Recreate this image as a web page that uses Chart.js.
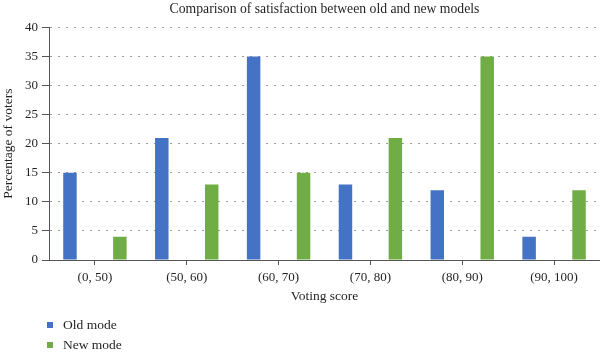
<!DOCTYPE html>
<html>
<head>
<meta charset="utf-8">
<script src="https://cdn.jsdelivr.net/npm/chart.js@4/dist/chart.umd.min.js"></script>
<style>
  html, body { margin: 0; padding: 0; background: #fff; }
  #wrap { width: 600px; height: 354px; position: relative; }
</style>
</head>
<body>
<div id="wrap"><canvas id="chart"></canvas></div>
<script>
var categories = ['(0, 50)', '(50, 60)', '(60, 70)', '(70, 80)', '(80, 90)', '(90, 100)'];
var oldMode = [15, 21, 35, 13, 12, 4];
var newMode = [4, 13, 15, 21, 35, 12];
var seriesNames = ['Old mode', 'New mode'];
var seriesColors = ['#4472c4', '#70ad47'];

var serif = "'Liberation Serif', 'DejaVu Serif', serif";
var textColor = '#231f20';

// legend stacked vertically under the x axis title
var stackedLegend = {
  id: 'stackedLegend',
  afterLayout: function (chart) {
    // centre the title over the plot area, not the whole canvas
    if (chart.titleBlock) {
      chart.titleBlock.left = chart.chartArea.left;
      chart.titleBlock.right = chart.chartArea.right;
    }
  },
  afterDraw: function (chart) {
    var ctx = chart.ctx;
    ctx.save();
    ctx.font = '13.5px ' + serif;
    ctx.textBaseline = 'middle';
    chart.data.datasets.forEach(function (ds, i) {
      var y = 325 + i * 20;
      ctx.fillStyle = ds.backgroundColor;
      ctx.fillRect(47, y - 3, 6, 6);
      ctx.fillStyle = textColor;
      ctx.fillText(ds.label, 63, y);
    });
    ctx.restore();
  }
};

var ctx = document.getElementById('chart');
var chart = new Chart(ctx, {
  type: 'bar',
  data: {
    labels: categories,
    datasets: [
      { label: seriesNames[0], data: oldMode, backgroundColor: seriesColors[0] },
      { label: seriesNames[1], data: newMode, backgroundColor: seriesColors[1] }
    ]
  },
  options: {
    responsive: true,
    maintainAspectRatio: false,
    animation: false,
    categoryPercentage: 1.087,
    barPercentage: 0.27,
    layout: { padding: { top: 1, right: 0, bottom: 44, left: 0 } },
    plugins: {
      legend: { display: false },
      tooltip: { enabled: false },
      title: {
        display: true,
        text: 'Comparison of satisfaction between old and new models',
        color: textColor,
        font: { family: serif, size: 13.7, weight: 'normal' },
        padding: { top: 0, bottom: 10 }
      }
    },
    scales: {
      x: {
        afterFit: function (scale) { scale.height = 50; },
        grid: { display: true, drawOnChartArea: false, offset: false, tickLength: 5, color: '#555' },
        border: { color: '#555', width: 1 },
        ticks: { color: textColor, font: { family: serif, size: 13 }, padding: 5 },
        title: {
          display: true,
          text: 'Voting score',
          color: textColor,
          font: { family: serif, size: 13.5 },
          padding: { top: 0, bottom: 5 }
        }
      },
      y: {
        min: 0,
        max: 40,
        afterFit: function (scale) { scale.width = 49; },
        grid: { color: '#9a9a9a', tickColor: '#555', tickLength: 7, lineWidth: 1 },
        border: { color: '#555', width: 1, dash: [2, 6] },
        ticks: { stepSize: 5, color: textColor, font: { family: serif, size: 13 }, padding: 4 },
        title: {
          display: true,
          text: 'Percentage of voters',
          color: textColor,
          font: { family: serif, size: 13.5 },
          padding: { top: 0, bottom: 0 }
        }
      }
    }
  },
  plugins: [stackedLegend]
});
</script>
</body>
</html>
